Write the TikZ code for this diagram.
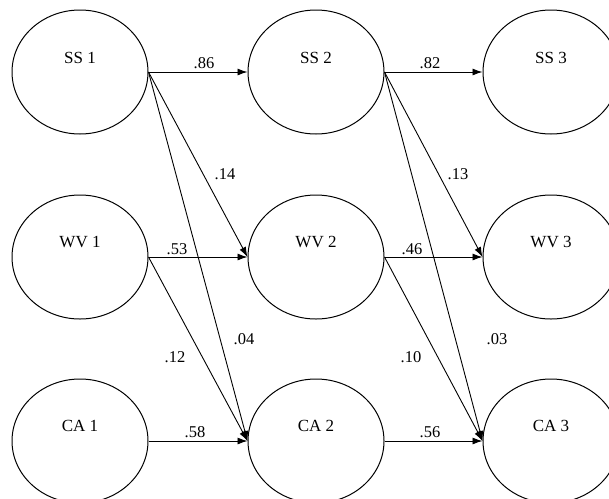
\documentclass[tikz,border=0pt]{standalone}
\usepackage{fontspec}
\setmainfont{Liberation Serif}
\usetikzlibrary{shapes.geometric,arrows.meta}
\begin{document}
\begin{tikzpicture}[x=1pt,y=-1pt,
  ell/.style={draw,ellipse,line width=1pt,minimum width=136pt,minimum height=124pt,inner sep=0pt},
  vname/.style={font=\fontsize{17}{19}\selectfont,inner sep=0pt},
  lbl/.style={font=\fontsize{16.5}{18}\selectfont,inner sep=0pt},
  arr/.style={line width=0.9pt,-{Latex[length=10pt,width=7pt]}}]
\useasboundingbox (0,0) rectangle (609,498);
\clip (0,0) rectangle (609,498);
% nodes
\node[ell] (ss1) at (80,72) {};
\node[ell] (ss2) at (316,72) {};
\node[ell] (ss3) at (551,72) {};
\node[ell] (wv1) at (80,257) {};
\node[ell] (wv2) at (316,257) {};
\node[ell] (wv3) at (551,257) {};
\node[ell] (ca1) at (80,441) {};
\node[ell] (ca2) at (316,441) {};
\node[ell] (ca3) at (551,441) {};
\node[vname] (tss1) at ([yshift=14pt]ss1.center) {SS 1};
\node[vname] (tss2) at ([yshift=14pt]ss2.center) {SS 2};
\node[vname] (tss3) at ([yshift=14pt]ss3.center) {SS 3};
\node[vname] (twv1) at ([yshift=15pt]wv1.center) {WV 1};
\node[vname] (twv2) at ([yshift=15pt]wv2.center) {WV 2};
\node[vname] (twv3) at ([yshift=15pt]wv3.center) {WV 3};
\node[vname] (tca1) at ([yshift=15pt]ca1.center) {CA 1};
\node[vname] (tca2) at ([yshift=15pt]ca2.center) {CA 2};
\node[vname] (tca3) at ([yshift=15pt]ca3.center) {CA 3};
% connectors
\draw[arr] (ss1.east) -- (ss2.west);
\draw[arr] (ss1.east) -- (wv2.west);
\draw[arr] (ss1.east) -- (ca2.west);
\draw[arr] (wv1.east) -- (wv2.west);
\draw[arr] (wv1.east) -- (ca2.west);
\draw[arr] (ca1.east) -- (ca2.west);
\draw[arr] (ss2.east) -- (ss3.west);
\draw[arr] (ss2.east) -- (wv3.west);
\draw[arr] (ss2.east) -- (ca3.west);
\draw[arr] (wv2.east) -- (wv3.west);
\draw[arr] (wv2.east) -- (ca3.west);
\draw[arr] (ca2.east) -- (ca3.west);
% labels
\node[lbl] (l86) at (204,63) {.86};
\node[lbl] (l82) at (430,63) {.82};
\node[lbl] (l14) at (225,174) {.14};
\node[lbl] (l13) at (458,174) {.13};
\node[lbl] (l53) at (177,249) {.53};
\node[lbl] (l46) at (412,249) {.46};
\node[lbl] (l04) at (244,339) {.04};
\node[lbl] (l03) at (497,339) {.03};
\node[lbl] (l12) at (175,357) {.12};
\node[lbl] (l10) at (411,357) {.10};
\node[lbl] (l58) at (195,432) {.58};
\node[lbl] (l56) at (430,432) {.56};
\end{tikzpicture}
\end{document}
